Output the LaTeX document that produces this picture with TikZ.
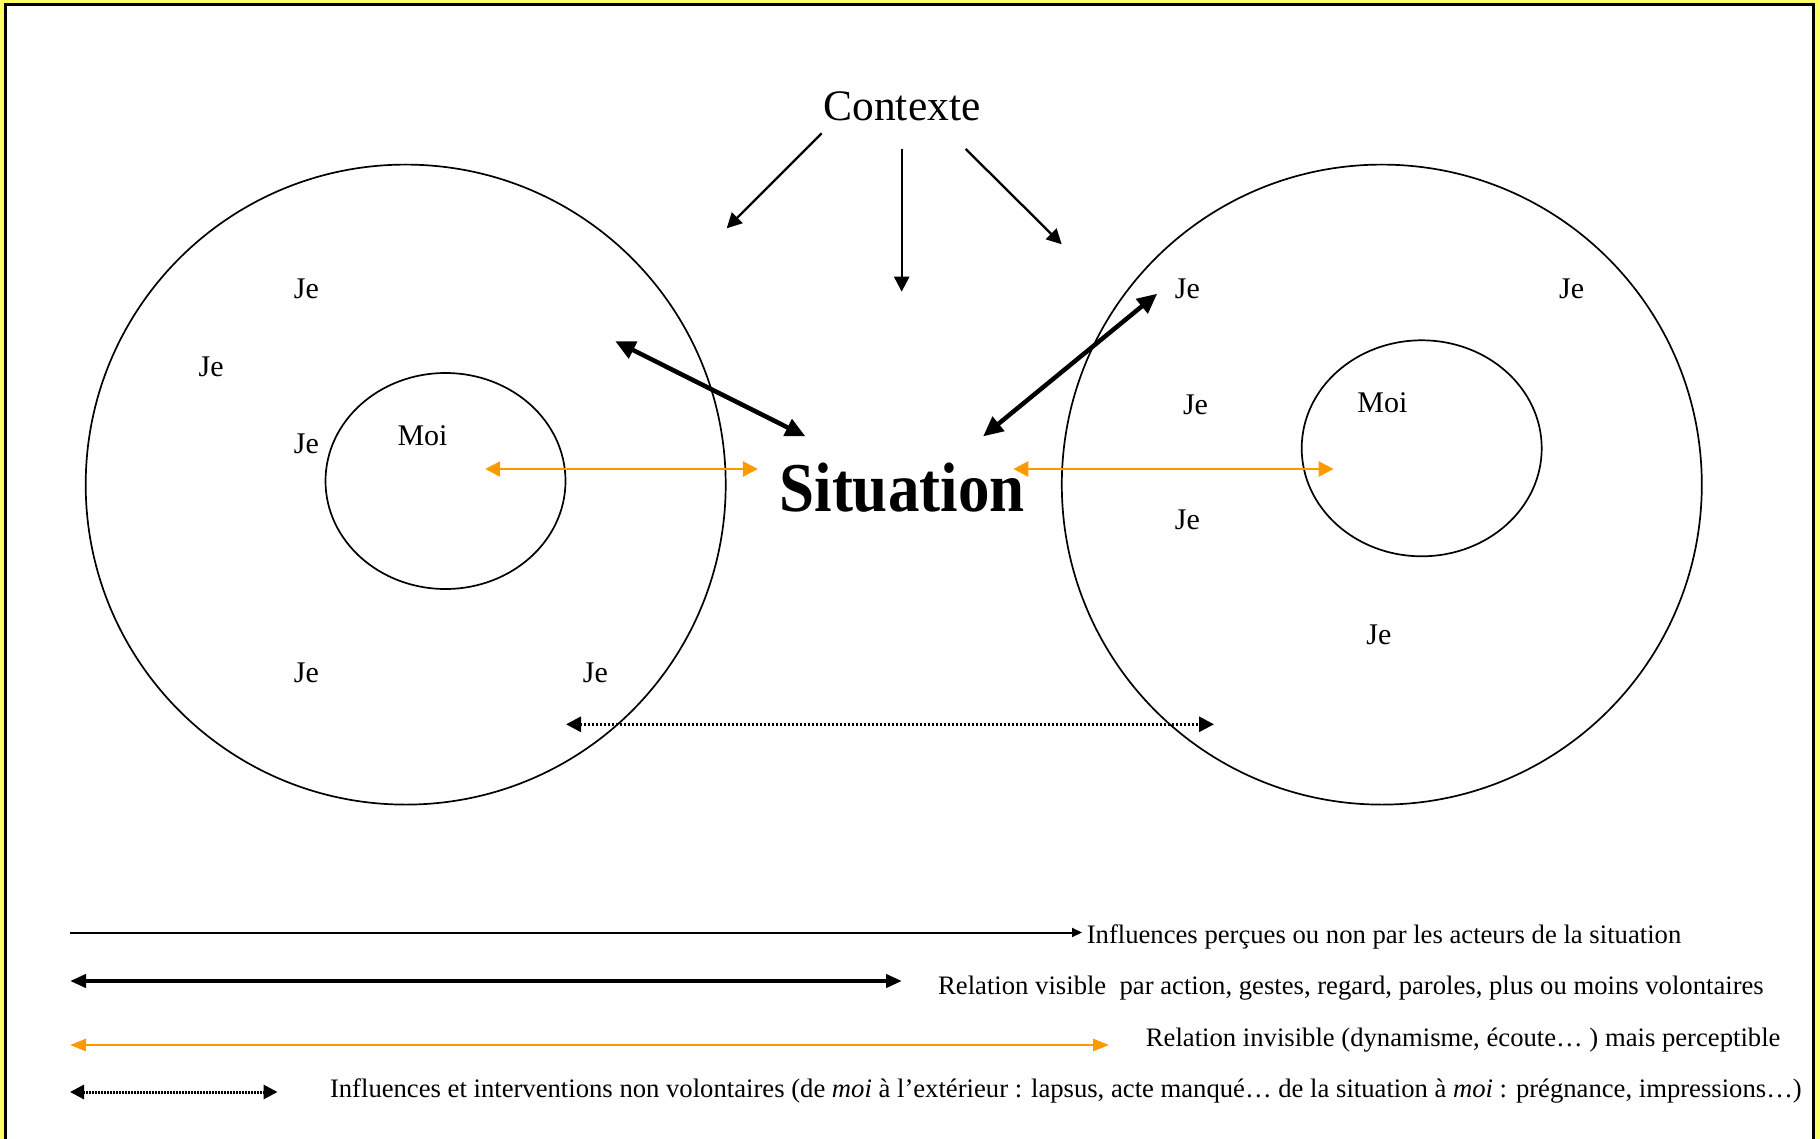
\documentclass[tikz,border=0pt]{standalone}
\usepackage{fontspec}
\setmainfont{Liberation Serif}
\newfontfamily\sitfont[FakeStretch=0.9]{Liberation Serif}
\usetikzlibrary{arrows.meta,shapes.geometric}
\definecolor{cadre}{RGB}{255,255,102}
\definecolor{orangeclair}{RGB}{255,153,0}

\begin{document}
\begin{tikzpicture}[x=0.5pt, y=-0.5pt, >={Triangle[length=7.5pt,width=7.5pt]},
	je/.style={font=\fontsize{15}{18}\selectfont},
	acteur/.style={draw, circle, line width=0.85pt, minimum size=320pt, inner sep=0pt},
	moi/.style={draw, ellipse, line width=0.85pt, minimum width=120pt, minimum height=108pt, inner sep=0pt},
	influence/.style={->, line width=1.15pt},
	visible/.style={{Triangle[length=10pt,width=9pt]}-{Triangle[length=10pt,width=9pt]}, line width=2.25pt},
	invisible/.style={<->, orangeclair, line width=1.25pt},
	involontaire/.style={<->, line width=1.5pt, dash pattern=on 1pt off 1pt},
	legende/.style={anchor=base west, inner sep=0pt, font=\fontsize{13.33}{16}\selectfont}]

	% cadre
	\useasboundingbox (0,0) rectangle (1820,1139);
	\fill[cadre] (0,0) rectangle (1820,1139);
	\fill[white] (5.3,5) rectangle (1813.3,1139);
	\draw[line width=1.5pt] (5.3,1139) -- (5.3,5) -- (1813.3,5) -- (1813.3,1139);

	% les deux personnes
	\node[acteur] (persA) at (405.7,484.6) {};
	\node[acteur] (persB) at (1381.8,484.6) {};
	\node[moi] (moiA) at (445.5,481) {};
	\node[moi] (moiB) at (1421.7,448.3) {};
	\node[je] (tmoiA) at (422.5,435.3) {Moi};
	\node[je] (tmoiB) at (1382.4,402.8) {Moi};

	\foreach \n/\p in {a1/{306.4,289}, a2/{211.2,366.8}, a3/{306.4,443.4}, a4/{306.4,673.2}, a5/{595.4,673.2},
		b1/{1187.4,289}, b2/{1571.6,289}, b3/{1195.5,405.1}, b4/{1187.4,520}, b5/{1378.9,634.9}}
		\node[je] (je\n) at (\p) {Je};

	% contexte et situation
	\node[font=\fontsize{21.75}{26}\selectfont, anchor=base] (ctx) at (902,121) {Contexte};
	\node[font=\sitfont\bfseries\fontsize{35}{42}\selectfont, anchor=base] (sit) at (902,511) {Situation};

	\coordinate (c1) at (821.7,133.3);  \coordinate (c1e) at (726.7,228.3);
	\coordinate (c2) at (901.7,149.3);  \coordinate (c2e) at (901.7,291.7);
	\coordinate (c3) at (965.7,149);    \coordinate (c3e) at (1061.7,244.3);
	\draw[influence] (c1) -- (c1e);
	\draw[influence] (c2) -- (c2e);
	\draw[influence] (c3) -- (c3e);

	% relations visibles
	\coordinate (vA) at (615.2,341.2);  \coordinate (vAs) at (805.5,436.4);
	\coordinate (vB) at (1157.2,293.7); \coordinate (vBs) at (983.1,436.4);
	\draw[visible] (vA) -- (vAs);
	\draw[visible] (vB) -- (vBs);

	% relations invisibles
	\coordinate (iA) at (485.2,469);    \coordinate (iAs) at (757.9,469);
	\coordinate (iB) at (1333.6,469);   \coordinate (iBs) at (1013.3,469);
	\draw[invisible] (iA) -- (iAs);
	\draw[invisible] (iB) -- (iBs);

	% influences non volontaires
	\coordinate (dA) at (566,724.3);    \coordinate (dB) at (1214,724.3);
	\draw[involontaire] (dA) -- (dB);

	% legende
	\coordinate (l1a) at (70,932.5);  \coordinate (l1b) at (1082,932.5);
	\coordinate (l2a) at (70,981);    \coordinate (l2b) at (902,981);
	\coordinate (l3a) at (70,1045);   \coordinate (l3b) at (1109,1045);
	\coordinate (l4a) at (70,1092);   \coordinate (l4b) at (277.5,1092);
	\draw[-{Triangle[length=5pt,width=4.5pt]}, line width=1pt] (l1a) -- (l1b);
	\draw[visible, {Triangle[length=8pt,width=6.5pt]}-{Triangle[length=8pt,width=6.5pt]}, line width=2pt] (l2a) -- (l2b);
	\draw[invisible, {Triangle[length=8pt,width=6pt]}-{Triangle[length=8pt,width=6pt]}] (l3a) -- (l3b);
	\draw[involontaire, {Triangle[length=7pt,width=7pt]}-{Triangle[length=7pt,width=7pt]}, dash pattern=on 0.75pt off 0.75pt] (l4a) -- (l4b);

	\node[legende] (leg1) at (1086.4,943.5) {Influences perçues ou non par les acteurs de la situation};
	\node[legende] (leg2) at (937.8,994.7) {Relation visible\ \ par action, gestes, regard, paroles, plus ou moins volontaires};
	\node[legende] (leg3) at (1145.5,1046) {Relation invisible (dynamisme, écoute… ) mais perceptible};
	\node[legende] (leg4) at (329.6,1097) {Influences et interventions non volontaires (de \textit{moi} à l’extérieur : lapsus, acte manqué… de la situation à \textit{moi} : prégnance, impressions…)};
\end{tikzpicture}
\end{document}
